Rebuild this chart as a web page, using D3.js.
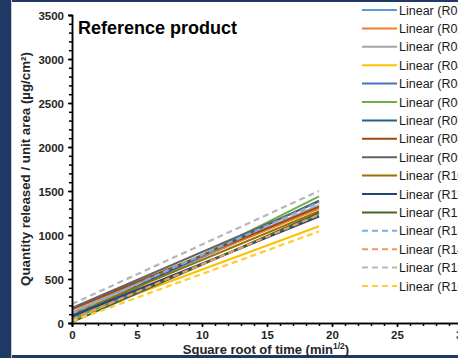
<!DOCTYPE html>
<html><head><meta charset="utf-8">
<script src="https://cdn.jsdelivr.net/npm/d3@7"></script>
<style>body{margin:0;overflow:hidden;background:#fff}svg{display:block}text{font-family:Arial,"Liberation Sans",sans-serif}</style>
</head><body><svg id="c" width="458" height="358"></svg>
<script>
const seriesNames = ["Linear (R01)","Linear (R02)","Linear (R03)","Linear (R04)","Linear (R05)","Linear (R06)","Linear (R07)","Linear (R08)","Linear (R09)","Linear (R10)","Linear (R11)","Linear (R12)","Linear (R13)","Linear (R14)","Linear (R15)","Linear (R16)"];
const intercepts = [90,150,120,60,50,30,70,160,170,100,80,10,110,40,215,20];
const endValues  = [1330,1300,1340,1100,1220,1440,1390,1320,1380,1270,1210,1250,1370,1230,1500,1040];
const xStart = 0, xEnd = 19;
const colors = ["#5B9BD5","#ED7D31","#A5A5A5","#FFC000","#4472C4","#70AD47","#255E91","#9E480E","#636363","#997300","#264478","#43682B","#7CAFDD","#F1975A","#B7B7B7","#FFCD33"];
const dashed = [false,false,false,false,false,false,false,false,false,false,false,false,true,true,true,true];
const xTicks = [0,5,10,15,20,25,30];
const yTicks = [0,500,1000,1500,2000,2500,3000,3500];

const svg = d3.select("#c");
svg.append("rect").attr("width",458).attr("height",358).attr("fill","#203864");
svg.append("rect").attr("x",11).attr("y",0).attr("width",1).attr("height",358).attr("fill","#c8cdd8");
svg.append("rect").attr("x",12).attr("y",2).attr("width",446).attr("height",353).attr("fill","#fff");

const x = d3.scaleLinear().domain([0,30]).range([72,462]);
const y = d3.scaleLinear().domain([0,3500]).range([323,15]);

// lines
const line = d3.line().x(d=>x(d[0])).y(d=>y(d[1]));
seriesNames.forEach((n,i)=>{
  svg.append("path").datum([[xStart,intercepts[i]],[xEnd,endValues[i]]])
    .attr("d",line).attr("fill","none").attr("stroke",colors[i])
    .attr("stroke-width",dashed[i]?2.25:2)
    .attr("stroke-dasharray",dashed[i]?"6,4":null);
});

// axes
const yAxis = d3.axisLeft(y).tickValues(yTicks).tickSize(4).tickFormat(d3.format("d"));
const gy = svg.append("g").attr("transform","translate(72,0)").call(yAxis);
const gyMinor = svg.append("g").attr("transform","translate(72,0)").call(d3.axisLeft(y).tickValues(d3.range(0,3501,100)).tickSize(3).tickFormat(""));
const xAxis = d3.axisBottom(x).tickValues(xTicks).tickSize(4).tickFormat(d3.format("d"));
const gx = svg.append("g").attr("transform","translate(0,323)").call(xAxis);
const gxMinor = svg.append("g").attr("transform","translate(0,323)").call(d3.axisBottom(x).tickValues(d3.range(0,31,1)).tickSize(3).tickFormat(""));
[gy,gyMinor,gx,gxMinor].forEach(g=>{
  g.selectAll("path.domain").attr("stroke","#000").attr("stroke-width",1.5);
  g.selectAll(".tick line").attr("stroke","#000").attr("stroke-width",1.5);
});
gy.selectAll("text").attr("font-size",11.5).attr("font-weight","bold").attr("fill","#262626").attr("x",-8).attr("dy","0.35em");
gx.selectAll("text").attr("font-size",11.5).attr("font-weight","bold").attr("fill","#262626").attr("y",8);

// titles
svg.append("text").attr("x",78).attr("y",34).attr("font-size",18).attr("font-weight","bold").attr("fill","#000").text("Reference product");
svg.append("text").attr("transform","translate(30,169) rotate(-90)").attr("text-anchor","middle")
  .attr("font-size",13.3).attr("font-weight","bold").attr("fill","#262626").text("Quantity released / unit area (µg/cm²)");
const xt = svg.append("text").attr("x",266).attr("y",354).attr("text-anchor","middle").attr("font-size",13).attr("font-weight","bold").attr("fill","#262626");
xt.append("tspan").text("Square root of time (min");
xt.append("tspan").attr("font-size",8.5).attr("dy",-5).text("1/2");
xt.append("tspan").attr("dy",5).text(")");

// legend
const lg = svg.append("g");
seriesNames.forEach((n,i)=>{
  const yy = 10 + i*18.4;
  lg.append("line").attr("x1",362).attr("x2",397).attr("y1",yy).attr("y2",yy)
    .attr("stroke",colors[i]).attr("stroke-width",2)
    .attr("stroke-dasharray",dashed[i]?"6,4":null);
  lg.append("text").attr("x",399).attr("y",yy+4.5).attr("font-size",12.5).attr("fill","#1a1a1a").text(n);
});
</script></body></html>
